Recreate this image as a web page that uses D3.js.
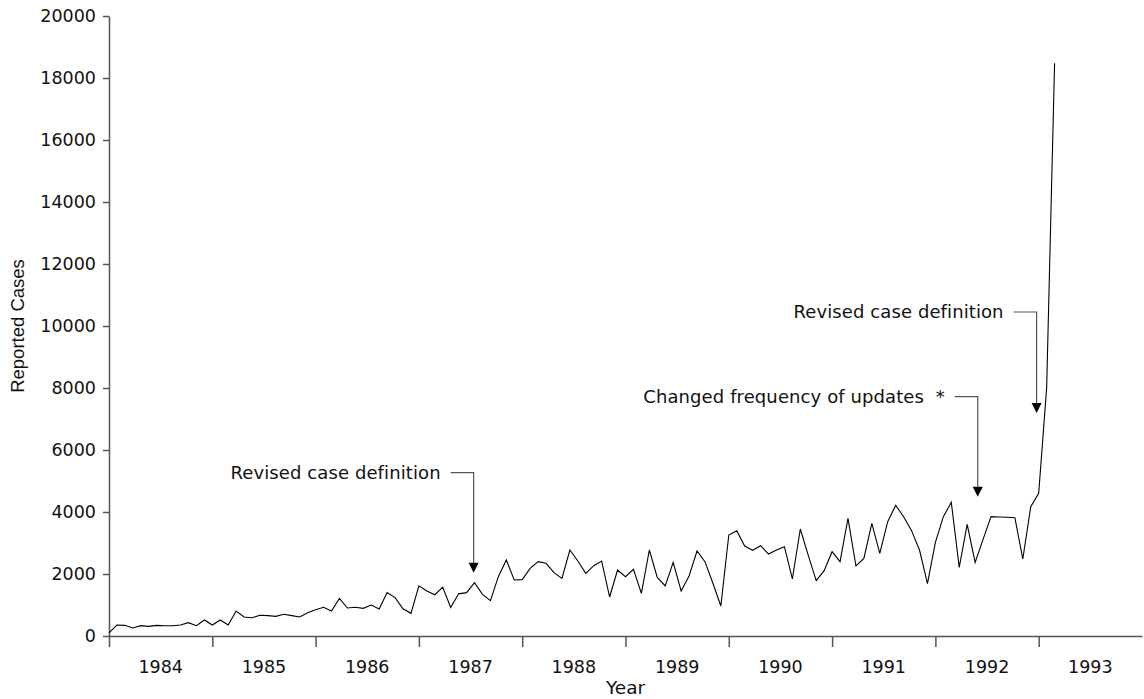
<!DOCTYPE html>
<html>
<head>
<meta charset="utf-8">
<script src="https://cdn.jsdelivr.net/npm/d3@7"></script>
<style>
  body { margin: 0; background: #fff; }
  svg { display: block; }
  text { font-family: "DejaVu Sans", sans-serif; fill: #111; }
</style>
</head>
<body>
<svg id="chart" width="1144" height="699"></svg>
<script>
// ---- data ----
const startYear = 1984;
const periodsPerYear = 13;
const cases = [
  100, 355, 344, 258, 333, 312, 344, 333, 333, 355, 430, 333, 516,
  355, 516, 355, 806, 613, 591, 667, 656, 634, 699, 656, 613, 753,
  849, 925, 806, 1215, 903, 925, 892, 1000, 870, 1405, 1240, 880, 731,
  1620, 1452, 1330, 1575, 920, 1360, 1398, 1720, 1344, 1140, 1914, 2452, 1806,
  1817, 2183, 2398, 2344, 2043, 1860, 2774, 2419, 2022, 2269, 2419, 1258, 2129,
  1914, 2151, 1376, 2774, 1892, 1613, 2376, 1452, 1935, 2742, 2398, 1700, 968,
  3258, 3398, 2903, 2763, 2914, 2645, 2774, 2882, 1839, 3452, 2600, 1785, 2108,
  2720, 2398, 3796, 2258, 2505, 3634, 2667, 3688, 4215, 3849, 3398, 2774, 1690,
  3022, 3849, 4312, 2215, 3602, 2376, 3118, 3849, 3840, 3830, 3817, 2484, 4172,
  4602, 8000, 18473
];
const yearLabels = [1984, 1985, 1986, 1987, 1988, 1989, 1990, 1991, 1992, 1993];
const yTickValues = [0, 2000, 4000, 6000, 8000, 10000, 12000, 14000, 16000, 18000, 20000];
const annotationLabels = ["Revised case definition", "Changed frequency of updates  *", "Revised case definition"];
const annotationYears = [1987.53, 1992.41, 1992.98];
const annotationLabelValues = [5269, 7720, 10452];
const annotationTipValues = [2042, 4494, 7194];
const xTitle = "Year";
const yTitle = "Reported Cases";

// ---- chart ----
const svg = d3.select("#chart");
const x = d3.scaleLinear().domain([1984, 1994]).range([109, 1142]);
const y = d3.scaleLinear().domain([0, 20000]).range([636, 16]);
const axisColor = "#555";

// x axis
const xAxis = svg.append("g").attr("transform", `translate(0,${y(0)})`)
  .call(d3.axisBottom(x).tickValues(yearLabels).tickSize(11).tickSizeOuter(0).tickFormat(""));
xAxis.selectAll("path, line").attr("stroke", axisColor).attr("stroke-width", 1.5);

svg.append("g").selectAll("text").data(yearLabels).join("text")
  .attr("x", d => x(d + 0.5))
  .attr("y", y(0) + 31)
  .attr("dy", "0.35em")
  .attr("text-anchor", "middle")
  .style("font-size", "17.5px")
  .text(d => d);

// y axis
const yAxis = svg.append("g").attr("transform", `translate(${x(1984)},0)`)
  .call(d3.axisLeft(y).tickValues(yTickValues).tickSize(6).tickSizeOuter(0).tickPadding(7).tickFormat(d3.format("d")));
yAxis.selectAll("path, line").attr("stroke", axisColor).attr("stroke-width", 1.5);
yAxis.selectAll("text").style("font-size", "17.5px").attr("fill", "#111")
  .style("font-family", '"DejaVu Sans", sans-serif');

// titles
svg.append("text").attr("x", x(1989)).attr("y", 688).attr("dy", "0.35em")
  .attr("text-anchor", "middle").style("font-size", "18.5px").text(xTitle);
svg.append("text").attr("transform", `translate(23.5,${(y(0) + y(20000)) / 2}) rotate(-90)`)
  .attr("text-anchor", "middle")
  .style("font-family", '"Liberation Sans", Arial, sans-serif')
  .style("font-size", "18.5px").text(yTitle);

// data line
const line = d3.line()
  .x((d, i) => x(startYear + i / periodsPerYear))
  .y(d => y(d));
svg.append("path").datum(cases)
  .attr("d", line)
  .attr("fill", "none")
  .attr("stroke", "#000")
  .attr("stroke-width", 1.1)
  .attr("stroke-linejoin", "miter");

// annotations
annotationLabels.forEach((label, k) => {
  const ax = x(annotationYears[k]);
  const ly = y(annotationLabelValues[k]);
  const ty = y(annotationTipValues[k]);
  const g = svg.append("g");
  g.append("path")
    .attr("d", `M${ax - 23},${ly}H${ax}V${ty - 9}`)
    .attr("fill", "none").attr("stroke", axisColor).attr("stroke-width", 1.2);
  g.append("path")
    .attr("d", `M${ax - 5},${ty - 10}L${ax + 5},${ty - 10}L${ax},${ty}Z`)
    .attr("fill", "#000");
  g.append("text")
    .attr("x", ax - 33).attr("y", ly).attr("dy", "0.35em")
    .attr("text-anchor", "end")
    .style("font-size", "18px")
    .style("letter-spacing", "0.1px")
    .style("white-space", "pre")
    .text(label);
});
</script>
</body>
</html>
